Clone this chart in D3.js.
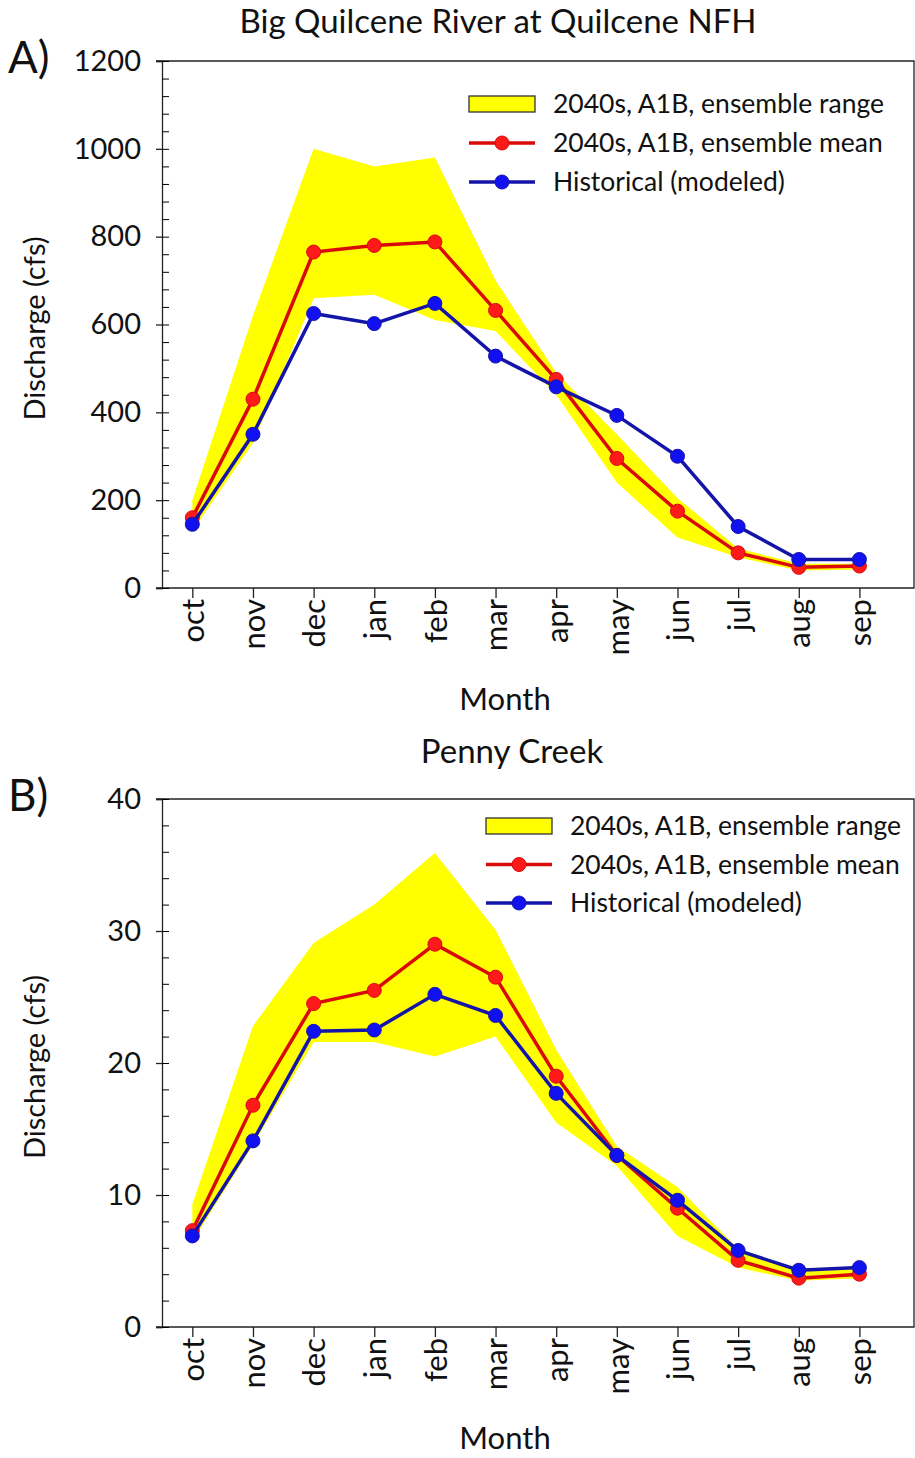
<!DOCTYPE html>
<html>
<head>
<meta charset="utf-8">
<script src="https://cdn.jsdelivr.net/npm/d3@7"></script>
<style>
  body { margin: 0; background: #fff; }
  svg text { font-family: Lato, "Open Sans", sans-serif; fill: #111; }
</style>
</head>
<body>
<svg id="chart" width="915" height="1458"></svg>
<script>
// month categories
const months = ["oct", "nov", "dec", "jan", "feb", "mar", "apr", "may", "jun", "jul", "aug", "sep"];

// A) Big Quilcene River at Quilcene NFH
const quilMean = [160, 430, 765, 780, 788, 632, 475, 295, 175, 80, 47, 50];
const quilHist = [145, 350, 625, 602, 648, 528, 458, 393, 300, 140, 65, 65];
const quilLow  = [130, 330, 660, 668, 610, 585, 440, 240, 115, 70, 40, 42];
const quilHigh = [200, 620, 1000, 960, 980, 700, 490, 350, 205, 90, 55, 55];
const quilTicks = [0, 200, 400, 600, 800, 1000, 1200];

// B) Penny Creek
const pennyMean = [7.3, 16.8, 24.5, 25.5, 29.0, 26.5, 19.0, 13.0, 9.0, 5.05, 3.7, 4.0];
const pennyHist = [6.9, 14.1, 22.4, 22.5, 25.2, 23.6, 17.7, 13.0, 9.6, 5.8, 4.3, 4.5];
const pennyLow  = [6.5, 13.8, 21.6, 21.6, 20.5, 22.0, 15.5, 12.2, 6.9, 4.5, 3.5, 3.7];
const pennyHigh = [9.3, 22.8, 29.1, 32.0, 35.9, 30.1, 21.0, 13.7, 10.6, 5.9, 4.4, 4.6];
const pennyTicks = [0, 10, 20, 30, 40];

const legendLabels = ["2040s, A1B, ensemble range", "2040s, A1B, ensemble mean", "Historical (modeled)"];

const svg = d3.select("#chart");

const left = 162, right = 914;

// x scale shared by both panels
const x = d3.scaleLinear()
  .domain([-0.5, 11.9])
  .range([left, right]);

function drawPanel(cfg) {
  const g = svg.append("g");

  const y = d3.scaleLinear()
    .domain([0, cfg.ticks[cfg.ticks.length - 1]])
    .range([cfg.bottom, cfg.top]);

  // ensemble range band
  const area = d3.area()
    .x((d, i) => x(i))
    .y0((d, i) => y(cfg.low[i]))
    .y1((d, i) => y(cfg.high[i]));

  g.append("path")
    .datum(months)
    .attr("d", area)
    .attr("fill", "#ffff00");

  // lines + markers
  const series = [
    { values: cfg.mean, stroke: "#d80a0a", fill: "#ff1a1a" },
    { values: cfg.hist, stroke: "#1414a8", fill: "#1010f0" }
  ];

  series.forEach(s => {
    const line = d3.line()
      .x((d, i) => x(i))
      .y(d => y(d));
    g.append("path")
      .datum(s.values)
      .attr("d", line)
      .attr("fill", "none")
      .attr("stroke", s.stroke)
      .attr("stroke-width", 3.5);
    g.selectAll(null)
      .data(s.values)
      .enter()
      .append("circle")
      .attr("cx", (d, i) => x(i))
      .attr("cy", d => y(d))
      .attr("r", 7)
      .attr("fill", s.fill)
      .attr("stroke", s.stroke)
      .attr("stroke-width", 1);
  });

  // frame
  g.append("path")
    .attr("d", `M${left - 6},${cfg.top}H${right}V${cfg.bottom}H${left - 6}`)
    .attr("fill", "none")
    .attr("stroke", "#222")
    .attr("stroke-width", 1.3);

  // y axis: major labels + outward ticks
  const step = cfg.ticks[1] - cfg.ticks[0];
  const minor = d3.range(0, cfg.ticks[cfg.ticks.length - 1] + 1e-9, step / 5);

  const yAxis = g.append("g")
    .attr("transform", `translate(${left},0)`)
    .call(d3.axisLeft(y).tickValues(cfg.ticks).tickSize(6).tickPadding(15).tickFormat(d3.format("d")))
    .call(a => a.selectAll("text").attr("font-size", 29).attr("font-family", "Lato"));

  g.append("g")
    .attr("transform", `translate(${left},0)`)
    .call(d3.axisLeft(y).tickValues(minor).tickSize(-7).tickFormat(""))
    .call(a => a.select(".domain").remove());

  yAxis.selectAll("line, path").attr("stroke", "#222").attr("stroke-width", 1.3);

  // x axis
  const xAxis = g.append("g")
    .attr("transform", `translate(0,${cfg.bottom})`)
    .call(d3.axisBottom(x).tickValues(d3.range(12)).tickSize(10).tickFormat(i => months[i]));
  xAxis.select(".domain").remove();
  xAxis.selectAll("line").attr("stroke", "#222").attr("stroke-width", 1.3);
  xAxis.selectAll("text")
    .attr("font-size", 31)
    .attr("transform", "rotate(-90)")
    .attr("text-anchor", "end")
    .attr("x", -11)
    .attr("y", 0)
    .attr("dy", "0.36em");

  // axis titles
  g.append("text")
    .attr("x", 505)
    .attr("y", cfg.bottom + 122)
    .attr("text-anchor", "middle")
    .attr("font-size", 31)
    .text("Month");

  g.append("text")
    .attr("transform", `translate(45,${(cfg.top + cfg.bottom) / 2 + 4}) rotate(-90)`)
    .attr("text-anchor", "middle")
    .attr("font-size", 29)
    .text("Discharge (cfs)");

  // panel title and letter
  g.append("text")
    .attr("x", cfg.titleX)
    .attr("y", cfg.titleY)
    .attr("text-anchor", "middle")
    .attr("font-size", 33)
    .text(cfg.title);

  g.append("text")
    .attr("x", 8)
    .attr("y", cfg.top + 12)
    .attr("font-size", 44)
    .text(cfg.letter);

  // legend
  const lg = g.append("g").attr("transform", `translate(${cfg.legX},${cfg.legY})`);
  lg.append("rect")
    .attr("x", 0).attr("y", -8)
    .attr("width", 66).attr("height", 16)
    .attr("fill", "#ffff00")
    .attr("stroke", "#333")
    .attr("stroke-width", 1.3);
  [["#d80a0a", "#ff1a1a"], ["#1414a8", "#1010f0"]].forEach((c, k) => {
    const yy = (k + 1) * cfg.legGap;
    lg.append("line")
      .attr("x1", 0).attr("x2", 66)
      .attr("y1", yy).attr("y2", yy)
      .attr("stroke", c[0]).attr("stroke-width", 3.5);
    lg.append("circle")
      .attr("cx", 33).attr("cy", yy).attr("r", 7)
      .attr("fill", c[1]).attr("stroke", c[0]);
  });
  legendLabels.forEach((t, k) => {
    lg.append("text")
      .attr("x", 84)
      .attr("y", k * cfg.legGap)
      .attr("dy", "0.35em")
      .attr("font-size", 26.5)
      .text(t);
  });
}

drawPanel({
  title: "Big Quilcene River at Quilcene NFH", letter: "A)", titleX: 498, titleY: 33,
  top: 61, bottom: 588, ticks: quilTicks,
  mean: quilMean, hist: quilHist, low: quilLow, high: quilHigh,
  legX: 469, legY: 104, legGap: 39
});

drawPanel({
  title: "Penny Creek", letter: "B)", titleX: 512, titleY: 763,
  top: 799, bottom: 1327, ticks: pennyTicks,
  mean: pennyMean, hist: pennyHist, low: pennyLow, high: pennyHigh,
  legX: 486, legY: 826, legGap: 38.5
});
</script>
</body>
</html>
